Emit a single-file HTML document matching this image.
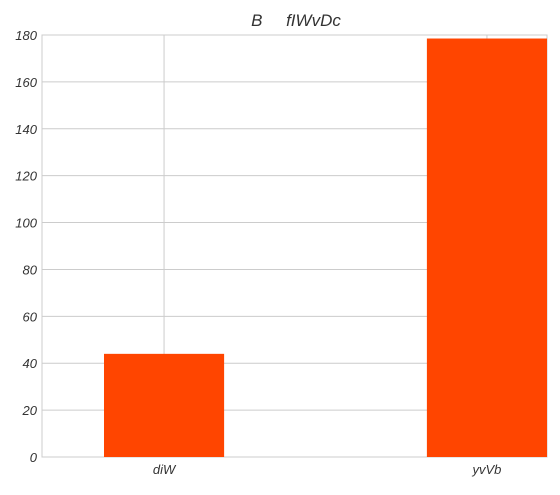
<!DOCTYPE html>
<html><head><meta charset="utf-8"><style>
body{margin:0;background:#fff;}
svg text{font-family:"Liberation Sans",Arial,sans-serif;font-style:italic;fill:#333;}
</style></head><body>
<svg id="chart" width="560" height="490"></svg>
<script>
const categories = ["diW", "yvVb"];
const values = [44, 178.5];
const yTicks = [0, 20, 40, 60, 80, 100, 120, 140, 160, 180];
const L = 42, R = 547, T = 35, B = 457;
const xMin = -0.378, xMax = 1.186, yMax = 180, barW = 0.372;
const xs = v => L + (v - xMin) / (xMax - xMin) * (R - L);
const ys = v => B - v / yMax * (B - T);
const svg = document.getElementById('chart');
const NS = 'http://www.w3.org/2000/svg';
function mk(tag, attrs, parent){const e=document.createElementNS(NS,tag);for(const k in attrs)e.setAttribute(k,attrs[k]);(parent||svg).appendChild(e);return e;}
const frame = mk('rect',{x:L,y:T,width:R-L,height:B-T,fill:'#fff',stroke:'#ccc','stroke-width':1});


yTicks.forEach(t=>{
  const g = mk('line',{x1:L,x2:R,y1:ys(t),y2:ys(t),stroke:'#ccc','stroke-width':1});
  
  
  const lb = mk('text',{x:L-5,y:ys(t)+5,'text-anchor':'end','font-size':13});
  lb.textContent = t;
  
  
});
categories.forEach((c,i)=>{
  const g = mk('line',{x1:xs(i),x2:xs(i),y1:T,y2:B,stroke:'#ccc','stroke-width':1});
  
  
});
categories.forEach((c,i)=>{
  const x0 = xs(i - barW/2), x1 = Math.min(xs(i + barW/2), R);
  const b = mk('rect',{x:x0,y:ys(values[i]),width:x1-x0,height:B-ys(values[i]),fill:'#ff4500'});
  
  
  const lb = mk('text',{x:xs(i),y:B+17,'text-anchor':'middle','font-size':13});
  lb.textContent = c;
  
  
});
const title = mk('text',{x:296,y:26,'text-anchor':'middle','font-size':17,style:'white-space:pre'});
title.textContent = 'B\u00a0\u00a0\u00a0\u00a0\u00a0fIWvDc';


</script>
</body></html>
